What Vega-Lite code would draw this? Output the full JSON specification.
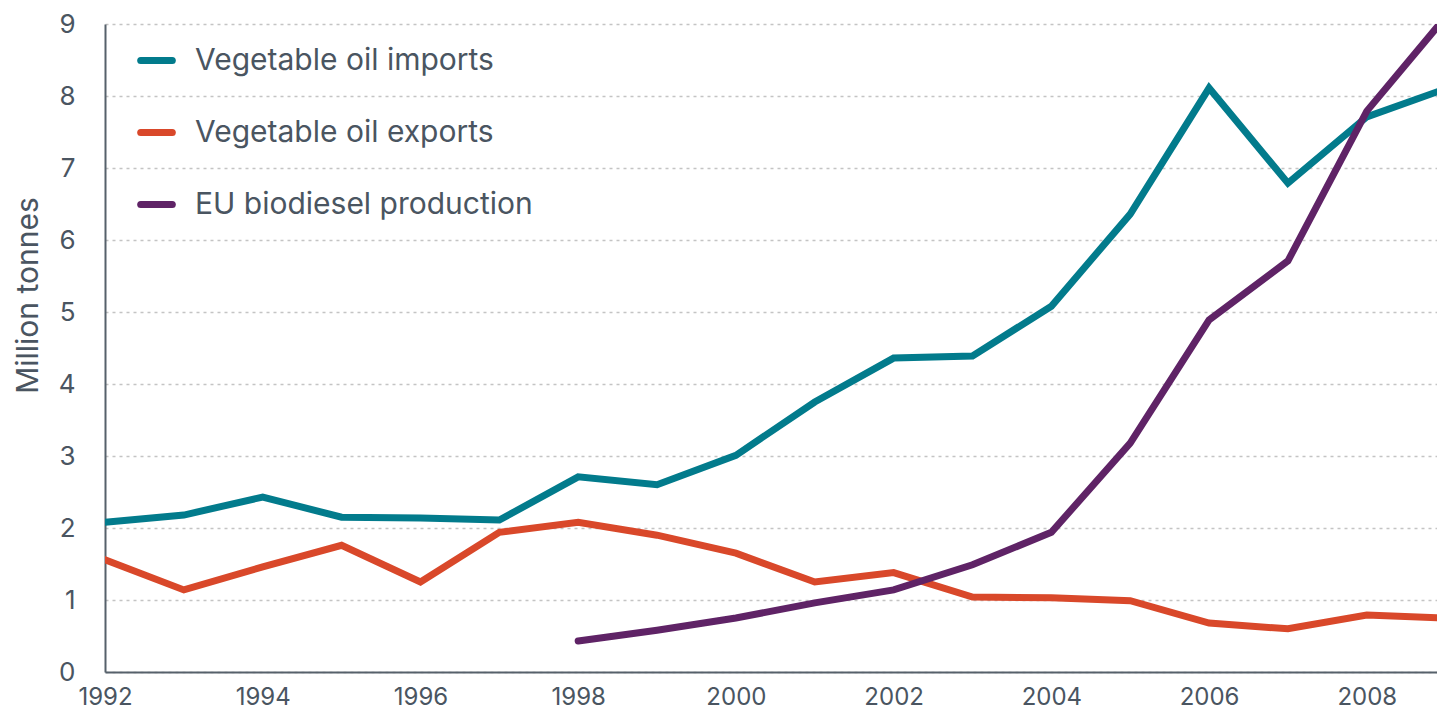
{
  "$schema": "https://vega.github.io/schema/vega-lite/v6.json",
  "width": 1332,
  "height": 648,
  "autosize": {"type": "none"},
  "padding": {"left": 105, "top": 24, "right": 0, "bottom": 43},
  "background": "white",
  "config": {
    "view": {"stroke": null},
    "font": "Inter"
  },
  "data": {
    "values": [
      {"year": 1992, "series": "Vegetable oil imports", "value": 2.08},
      {"year": 1993, "series": "Vegetable oil imports", "value": 2.18},
      {"year": 1994, "series": "Vegetable oil imports", "value": 2.43},
      {"year": 1995, "series": "Vegetable oil imports", "value": 2.15},
      {"year": 1996, "series": "Vegetable oil imports", "value": 2.14},
      {"year": 1997, "series": "Vegetable oil imports", "value": 2.11},
      {"year": 1998, "series": "Vegetable oil imports", "value": 2.71},
      {"year": 1999, "series": "Vegetable oil imports", "value": 2.6},
      {"year": 2000, "series": "Vegetable oil imports", "value": 3.01},
      {"year": 2001, "series": "Vegetable oil imports", "value": 3.75},
      {"year": 2002, "series": "Vegetable oil imports", "value": 4.36},
      {"year": 2003, "series": "Vegetable oil imports", "value": 4.39},
      {"year": 2004, "series": "Vegetable oil imports", "value": 5.08},
      {"year": 2005, "series": "Vegetable oil imports", "value": 6.36},
      {"year": 2006, "series": "Vegetable oil imports", "value": 8.11},
      {"year": 2007, "series": "Vegetable oil imports", "value": 6.79},
      {"year": 2008, "series": "Vegetable oil imports", "value": 7.71},
      {"year": 2009, "series": "Vegetable oil imports", "value": 8.1},
      {"year": 1992, "series": "Vegetable oil exports", "value": 1.56},
      {"year": 1993, "series": "Vegetable oil exports", "value": 1.14},
      {"year": 1994, "series": "Vegetable oil exports", "value": 1.46},
      {"year": 1995, "series": "Vegetable oil exports", "value": 1.76},
      {"year": 1996, "series": "Vegetable oil exports", "value": 1.25},
      {"year": 1997, "series": "Vegetable oil exports", "value": 1.94},
      {"year": 1998, "series": "Vegetable oil exports", "value": 2.08},
      {"year": 1999, "series": "Vegetable oil exports", "value": 1.9},
      {"year": 2000, "series": "Vegetable oil exports", "value": 1.65},
      {"year": 2001, "series": "Vegetable oil exports", "value": 1.25},
      {"year": 2002, "series": "Vegetable oil exports", "value": 1.38},
      {"year": 2003, "series": "Vegetable oil exports", "value": 1.04},
      {"year": 2004, "series": "Vegetable oil exports", "value": 1.03},
      {"year": 2005, "series": "Vegetable oil exports", "value": 0.99},
      {"year": 2006, "series": "Vegetable oil exports", "value": 0.68},
      {"year": 2007, "series": "Vegetable oil exports", "value": 0.6},
      {"year": 2008, "series": "Vegetable oil exports", "value": 0.79},
      {"year": 2009, "series": "Vegetable oil exports", "value": 0.75},
      {"year": 1998, "series": "EU biodiesel production", "value": 0.43},
      {"year": 1999, "series": "EU biodiesel production", "value": 0.58},
      {"year": 2000, "series": "EU biodiesel production", "value": 0.75},
      {"year": 2001, "series": "EU biodiesel production", "value": 0.96},
      {"year": 2002, "series": "EU biodiesel production", "value": 1.14},
      {"year": 2003, "series": "EU biodiesel production", "value": 1.49},
      {"year": 2004, "series": "EU biodiesel production", "value": 1.94},
      {"year": 2005, "series": "EU biodiesel production", "value": 3.18},
      {"year": 2006, "series": "EU biodiesel production", "value": 4.89},
      {"year": 2007, "series": "EU biodiesel production", "value": 5.71},
      {"year": 2008, "series": "EU biodiesel production", "value": 7.79},
      {"year": 2009, "series": "EU biodiesel production", "value": 9.1}
    ]
  },
  "mark": {"type": "line", "strokeWidth": 7, "strokeCap": "round", "strokeJoin": "miter", "clip": true},
  "encoding": {
    "x": {
      "field": "year",
      "type": "quantitative",
      "scale": {"domain": [1992, 2008.89], "nice": false, "zero": false},
      "axis": {
        "title": null,
        "format": "d",
        "values": [1992, 1994, 1996, 1998, 2000, 2002, 2004, 2006, 2008],
        "grid": false,
        "ticks": false,
        "domainColor": "#56616b",
        "domainWidth": 2,
        "labelFontSize": 24,
        "labelColor": "#4a5561",
        "labelPadding": 13,
        "labelFlush": false
      }
    },
    "y": {
      "field": "value",
      "type": "quantitative",
      "scale": {"domain": [0, 9], "nice": false},
      "axis": {
        "title": "Million tonnes",
        "titleFontSize": 30,
        "titleFontWeight": "normal",
        "titleColor": "#4a5561",
        "titleX": -77,
        "titleY": 271,
        "titleBaseline": "middle",
        "titleAngle": -90,
        "values": [0, 1, 2, 3, 4, 5, 6, 7, 8, 9],
        "ticks": false,
        "domainColor": "#56616b",
        "domainWidth": 2,
        "grid": true,
        "gridColor": "#c4c4c4",
        "gridDash": [3, 4],
        "gridWidth": 1.5,
        "labelFontSize": 26,
        "labelColor": "#4a5561",
        "labelPadding": 30
      }
    },
    "color": {
      "field": "series",
      "type": "nominal",
      "scale": {
        "domain": ["Vegetable oil imports", "Vegetable oil exports", "EU biodiesel production"],
        "range": ["#027b8c", "#d9482a", "#5f2366"]
      },
      "legend": {
        "title": null,
        "orient": "none",
        "legendX": 32,
        "legendY": 17,
        "padding": 0,
        "symbolType": "stroke",
        "symbolStrokeWidth": 7,
        "symbolSize": 1000,
        "labelFontSize": 30,
        "labelColor": "#4a5561",
        "labelOffset": 19,
        "rowPadding": 37,
        "labelLimit": 600,
        "encode": {
          "symbols": {"update": {"strokeCap": {"value": "round"}}}
        }
      }
    }
  }
}
